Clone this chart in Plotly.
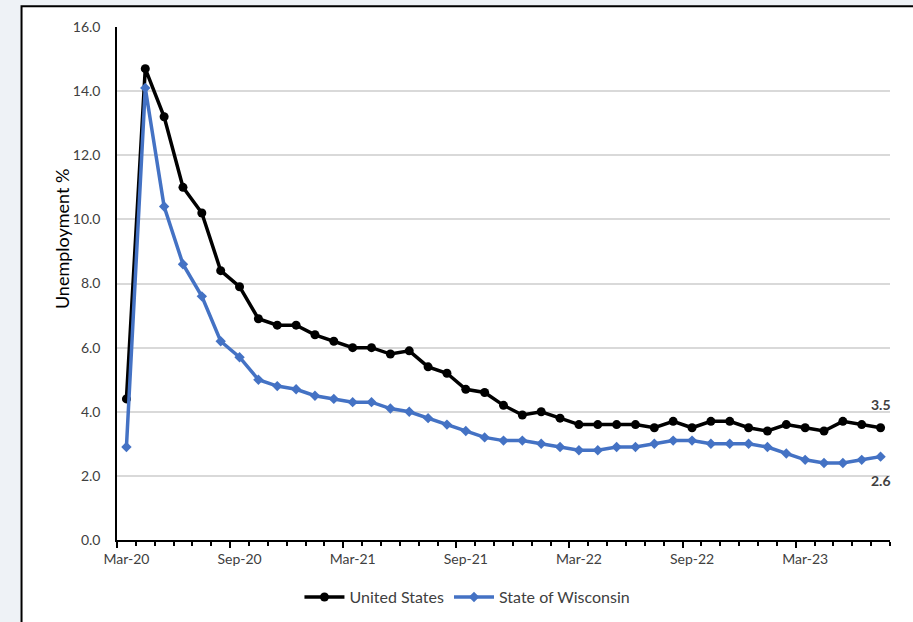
import plotly.graph_objects as go

# Monthly unemployment rate, Mar-2020 through Jul-2023
months = ["Mar-20", "Apr-20", "May-20", "Jun-20", "Jul-20", "Aug-20", "Sep-20", "Oct-20",
          "Nov-20", "Dec-20", "Jan-21", "Feb-21", "Mar-21", "Apr-21", "May-21", "Jun-21",
          "Jul-21", "Aug-21", "Sep-21", "Oct-21", "Nov-21", "Dec-21", "Jan-22", "Feb-22",
          "Mar-22", "Apr-22", "May-22", "Jun-22", "Jul-22", "Aug-22", "Sep-22", "Oct-22",
          "Nov-22", "Dec-22", "Jan-23", "Feb-23", "Mar-23", "Apr-23", "May-23", "Jun-23",
          "Jul-23"]

us_rate = [4.4, 14.7, 13.2, 11.0, 10.2, 8.4, 7.9, 6.9, 6.7, 6.7, 6.4, 6.2, 6.0, 6.0, 5.8,
           5.9, 5.4, 5.2, 4.7, 4.6, 4.2, 3.9, 4.0, 3.8, 3.6, 3.6, 3.6, 3.6, 3.5, 3.7, 3.5,
           3.7, 3.7, 3.5, 3.4, 3.6, 3.5, 3.4, 3.7, 3.6, 3.5]

wi_rate = [2.9, 14.1, 10.4, 8.6, 7.6, 6.2, 5.7, 5.0, 4.8, 4.7, 4.5, 4.4, 4.3, 4.3, 4.1,
           4.0, 3.8, 3.6, 3.4, 3.2, 3.1, 3.1, 3.0, 2.9, 2.8, 2.8, 2.9, 2.9, 3.0, 3.1, 3.1,
           3.0, 3.0, 3.0, 2.9, 2.7, 2.5, 2.4, 2.4, 2.5, 2.6]

y_ticks = [0, 2, 4, 6, 8, 10, 12, 14, 16]

FONT = "Lato"
TXT = "#404040"

idx = list(range(len(months)))
label_idx = idx[::6]
boundaries = [i - 0.5 for i in range(len(months) + 1)]
major_bounds = [i - 0.5 for i in label_idx]

fig = go.Figure()

fig.add_trace(go.Scatter(
    x=idx, y=us_rate, name="United States", mode="lines+markers",
    line=dict(color="#000000", width=3.5),
    marker=dict(symbol="circle", size=9, color="#000000"),
))
fig.add_trace(go.Scatter(
    x=idx, y=wi_rate, name="State of Wisconsin", mode="lines+markers",
    line=dict(color="#4472C4", width=3.5),
    marker=dict(symbol="diamond", size=8, color="#4472C4"),
))
# carrier trace for the labelled category axis
fig.add_trace(go.Scatter(x=[idx[0]], y=[us_rate[0]], xaxis="x2", mode="markers",
                         marker=dict(opacity=0), showlegend=False, hoverinfo="skip"))

# end-of-series value labels
fig.add_annotation(x=idx[-1], y=us_rate[-1], text=f"<b>{us_rate[-1]:.1f}</b>",
                   showarrow=False, yshift=23, xanchor="center",
                   font=dict(family=FONT, size=14, color=TXT))
fig.add_annotation(x=idx[-1], y=wi_rate[-1], text=f"<b>{wi_rate[-1]:.1f}</b>",
                   showarrow=False, yshift=-24, xanchor="center",
                   font=dict(family=FONT, size=14, color=TXT))

# y axis title
fig.add_annotation(xref="paper", yref="paper", x=-0.087, y=0.588,
                   text="Unemployment %", textangle=-90, showarrow=False,
                   font=dict(family=FONT, size=18, color="#000000"))

# chart frame
fig.add_shape(type="rect", xref="paper", yref="paper",
              x0=-0.1235, x1=1.1525, y0=-0.2, y1=1.0405,
              line=dict(color="#000000", width=2), fillcolor="#ffffff", layer="below")

fig.update_layout(
    width=913, height=622,
    margin=dict(l=117, r=23, t=27, b=82, autoexpand=False),
    paper_bgcolor="#eef2f6",
    plot_bgcolor="rgba(0,0,0,0)",
    font=dict(family=FONT, size=14, color=TXT),
    showlegend=True,
    legend=dict(orientation="h", xref="container", yref="container",
                x=0.512, xanchor="center", y=0.04, yanchor="middle",
                font=dict(family=FONT, size=16, color=TXT), bgcolor="rgba(0,0,0,0)",
                itemwidth=40, tracegroupgap=0),
    xaxis=dict(
        range=[-0.5, len(months) - 0.5], showgrid=False, zeroline=False,
        showline=True, linecolor="#000000", linewidth=1.5,
        tickmode="array", tickvals=major_bounds, ticks="outside", ticklen=6,
        tickcolor="#000000", tickwidth=1.5, showticklabels=False,
        minor=dict(tickmode="array", tickvals=boundaries, ticks="outside", ticklen=4,
                   tickcolor="#000000", tickwidth=1.5, showgrid=False),
    ),
    xaxis2=dict(
        overlaying="x", matches="x", side="bottom", showgrid=False, zeroline=False,
        showline=False, tickmode="array", tickvals=label_idx,
        ticktext=[months[i] for i in label_idx], ticks="", ticklabelstandoff=9,
        tickfont=dict(family=FONT, size=14, color=TXT),
    ),
    yaxis=dict(
        range=[0, 16], tickmode="array", tickvals=y_ticks,
        ticktext=[f"{v:.1f}" for v in y_ticks],
        showgrid=True, gridcolor="#d9d9d9", gridwidth=1.5, zeroline=False,
        showline=True, linecolor="#000000", linewidth=1.5, ticks="",
        ticklabelstandoff=12, tickfont=dict(family=FONT, size=14, color=TXT),
    ),
)

fig.write_html("out.html")
